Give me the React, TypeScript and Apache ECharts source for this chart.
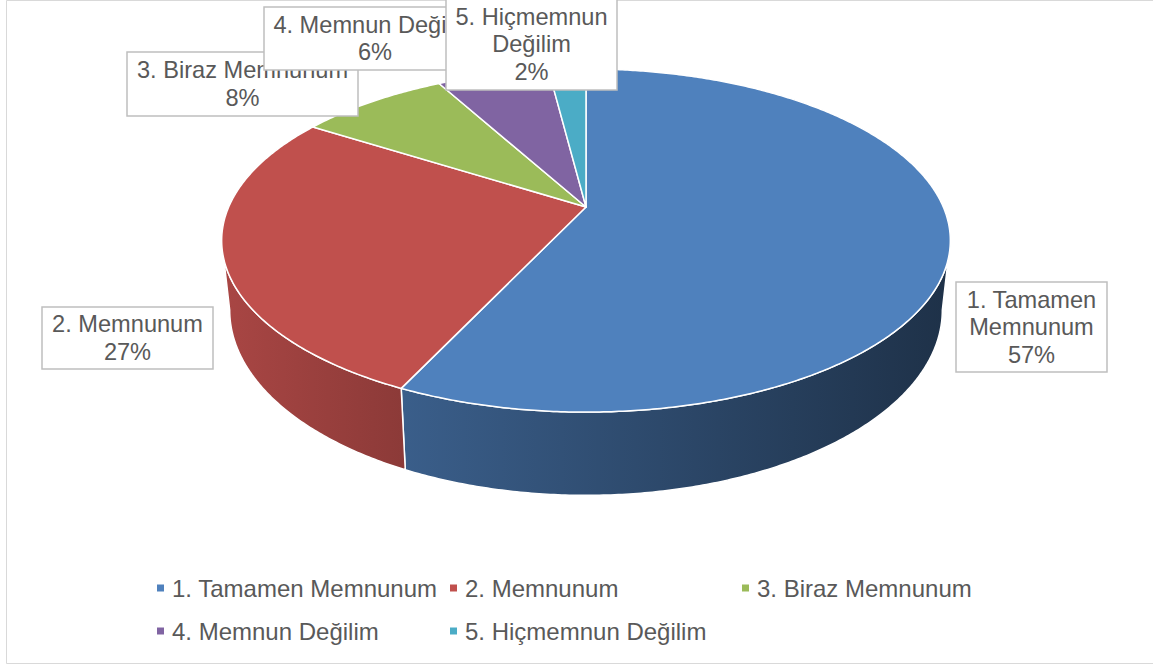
import React, { useEffect, useRef } from "react";
import * as echarts from "echarts";

// ---- data ----
const categories = [
  "1. Tamamen Memnunum",
  "2. Memnunum",
  "3. Biraz Memnunum",
  "4. Memnun Değilim",
  "5. Hiçmemnun Değilim",
];
const values = [57, 27, 8, 6, 2];
const colors = ["#4F81BD", "#C0504D", "#9BBB59", "#8064A2", "#4BACC6"];

// ---- layout (positions / sizes only) ----
const labelBoxes = [
  [956, 282, 151, 90],
  [42, 307, 171, 62],
  [127, 52, 231, 64],
  [264, 7, 222, 63],
  [446, -2, 171, 92],
];
const legendPos = [
  [157, 574],
  [450, 574],
  [742, 574],
  [157, 617],
  [450, 617],
];

const CX = 586;
const CY = 207;
const RX = 357.3;
const RY = 165;
const P = 0.1954; // perspective factor
const DEPTH = 67;
const BOTTOM_SCALE = 0.978;
const FONT = '"Liberation Sans", Arial, sans-serif';
const LABEL_FONT = `23.6px ${FONT}`;
const TEXT_COLOR = "#595959";

const TWO_PI = Math.PI * 2;
const total = values.reduce((a, b) => a + b, 0);
const startFrac = values.map(
  (_, i) => values.slice(0, i).reduce((a, b) => a + b, 0) / total
);

function project(phi: number, bottom: boolean): number[] {
  const x = Math.sin(phi);
  const z = -Math.cos(phi);
  const k = 1 / (1 - P * z);
  const sx = bottom ? BOTTOM_SCALE : 1;
  return [CX + RX * sx * x * k, CY + RY * z * k + (bottom ? DEPTH * k : 0)];
}

function arc(a0: number, a1: number, bottom: boolean): number[][] {
  const n = Math.max(2, Math.ceil((a1 - a0) / (Math.PI / 360)));
  const pts: number[][] = [];
  for (let j = 0; j <= n; j++) {
    pts.push(project(a0 + ((a1 - a0) * j) / n, bottom));
  }
  return pts;
}

function shade(hex: string, f: number): string {
  const r = parseInt(hex.slice(1, 3), 16);
  const g = parseInt(hex.slice(3, 5), 16);
  const b = parseInt(hex.slice(5, 7), 16);
  return `rgb(${Math.round(r * f)},${Math.round(g * f)},${Math.round(b * f)})`;
}

let measureCtx: CanvasRenderingContext2D | null = null;
function wrapWords(text: string, maxW: number, font: string): string {
  if (!measureCtx) measureCtx = document.createElement("canvas").getContext("2d");
  const ctx = measureCtx!;
  ctx.font = font;
  const words = text.split(" ");
  const lines: string[] = [];
  let cur = "";
  for (const w of words) {
    const test = cur ? cur + " " + w : w;
    if (cur && ctx.measureText(test).width > maxW) {
      lines.push(cur);
      cur = w;
    } else {
      cur = test;
    }
  }
  if (cur) lines.push(cur);
  return lines.join("\n");
}

const PHI_RIGHT = Math.acos(-P); // right silhouette
const PHI_LEFT = TWO_PI - PHI_RIGHT; // left silhouette

export default function App() {
  const ref = useRef<HTMLDivElement>(null);

  useEffect(() => {
    if (!ref.current) return;
    const chart = echarts.init(ref.current, undefined, { renderer: "svg" });

    const wallSeries: any = {
      type: "custom",
      name: "walls",
      coordinateSystem: "none",
      z: 1,
      silent: true,
      data: values.map((v) => ({ value: [v] })),
      renderItem: (params: any, api: any) => {
        const i = params.dataIndex;
        const a0 = startFrac[i] * TWO_PI;
        const a1 = a0 + (api.value(0) / total) * TWO_PI;
        const lo = Math.max(a0, PHI_RIGHT);
        const hi = Math.min(a1, PHI_LEFT);
        if (hi <= lo) return { type: "group", children: [] };
        const pts = arc(lo, hi, false).concat(arc(lo, hi, true).reverse());
        const c = colors[i];
        return {
          type: "polygon",
          shape: { points: pts },
          style: {
            fill: new echarts.graphic.LinearGradient(
              CX - RX * 1.02,
              0,
              CX + RX * 1.02,
              0,
              [
                { offset: 0, color: shade(c, 0.88) },
                { offset: 0.25, color: shade(c, 0.73) },
                { offset: 1, color: shade(c, 0.38) },
              ],
              true
            ),
            stroke: "#ffffff",
            lineWidth: 1.5,
            lineJoin: "round",
          },
        };
      },
    };

    const topSeries: any[] = categories.map((name, i) => ({
      type: "custom",
      name,
      coordinateSystem: "none",
      z: 2,
      itemStyle: { color: colors[i] },
      data: [{ value: [values[i]], name }],
      renderItem: (_params: any, api: any) => {
        const a0 = startFrac[i] * TWO_PI;
        const a1 = a0 + (api.value(0) / total) * TWO_PI;
        const pts = [[CX, CY]].concat(arc(a0, a1, false));
        return {
          type: "polygon",
          shape: { points: pts },
          style: {
            fill: colors[i],
            stroke: "#ffffff",
            lineWidth: 1.5,
            lineJoin: "round",
          },
        };
      },
    }));

    const labelSeries: any = {
      type: "custom",
      name: "labels",
      coordinateSystem: "none",
      z: 3,
      silent: true,
      data: values.map((v) => ({ value: [v] })),
      renderItem: (params: any, api: any) => {
        const i = params.dataIndex;
        const [bx, by, bw, bh] = labelBoxes[i];
        const pct = Math.round((api.value(0) / total) * 100) + "%";
        const name = wrapWords(categories[i], bw - 6, LABEL_FONT);
        return {
          type: "group",
          children: [
            {
              type: "rect",
              z2: i * 2,
              shape: { x: bx, y: by, width: bw, height: bh },
              style: { fill: "#ffffff", stroke: "#bfbfbf", lineWidth: 1.5 },
            },
            {
              type: "text",
              z2: i * 2 + 1,
              style: {
                text: name + "\n" + pct,
                x: bx + bw / 2,
                y: by + bh / 2,
                align: "center",
                verticalAlign: "middle",
                font: LABEL_FONT,
                lineHeight: 27.5,
                fill: TEXT_COLOR,
              },
            },
          ],
        };
      },
    };

    const option: any = {
      animation: false,
      graphic: [
        {
          type: "rect",
          silent: true,
          z: 0,
          shape: { x: 6.5, y: 0.5, width: 1160, height: 663 },
          style: { fill: "none", stroke: "#d9d9d9", lineWidth: 1 },
        },
      ],
      legend: categories.map((name, i) => ({
        data: [name],
        left: legendPos[i][0],
        top: legendPos[i][1],
        padding: 0,
        icon: "rect",
        itemWidth: 7,
        itemHeight: 7,
        selectedMode: false,
        textStyle: {
          color: TEXT_COLOR,
          fontSize: 24,
          fontFamily: FONT,
          lineHeight: 28,
          padding: [0, 0, 0, 3],
        },
      })),
      series: [wallSeries, ...topSeries, labelSeries],
    };

    chart.setOption(option);
    return () => chart.dispose();
  }, []);

  return (
    <div
      ref={ref}
      style={{ position: "fixed", left: 0, top: 0, width: 1153, height: 666, background: "#ffffff" }}
    />
  );
}
